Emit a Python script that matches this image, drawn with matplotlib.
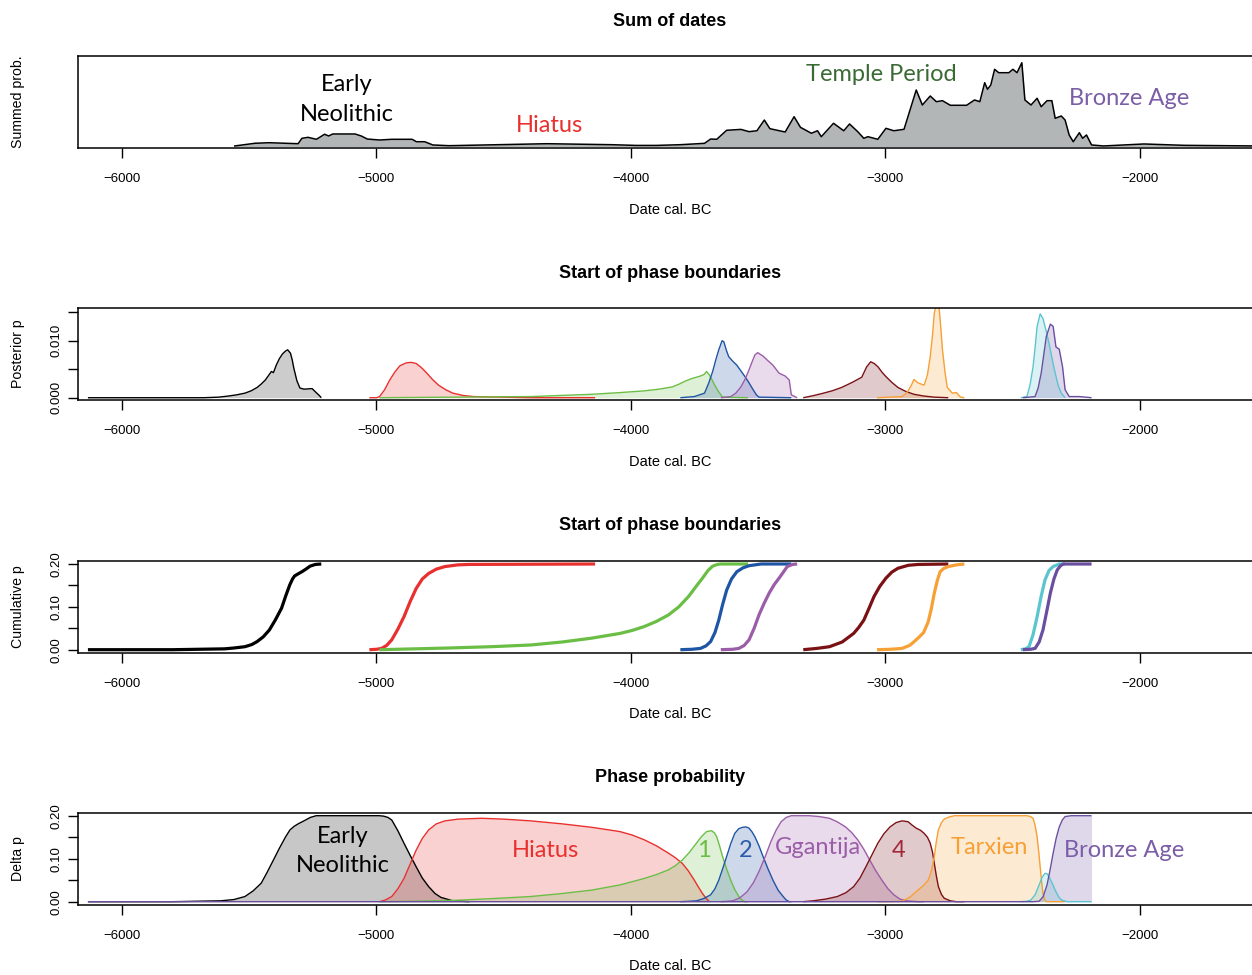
import numpy as np
import matplotlib.pyplot as plt

plt.rcParams['font.family'] = ['Liberation Sans', 'DejaVu Sans']

# ---- data: (date cal. BC, value) ----

# panel 1: summed probability of dates (arbitrary units)
sum_dates = [(-5557, 0.006), (-5477, 0.036), (-5421, 0.042), (-5308, 0.031), (-5293, 0.091),
             (-5269, 0.102), (-5236, 0.080), (-5204, 0.136), (-5188, 0.117), (-5172, 0.139),
             (-5084, 0.139), (-5060, 0.117), (-5036, 0.083), (-4988, 0.072), (-4940, 0.080),
             (-4860, 0.080), (-4843, 0.053), (-4811, 0.053), (-4795, 0.036), (-4779, 0.017),
             (-4715, 0.009), (-4330, 0.031), (-4075, 0.020), (-3980, 0.012), (-3900, 0.012),
             (-3806, 0.020), (-3711, 0.035), (-3687, 0.083), (-3663, 0.080), (-3624, 0.180),
             (-3568, 0.190), (-3536, 0.165), (-3505, 0.175), (-3476, 0.294), (-3454, 0.198),
             (-3394, 0.161), (-3359, 0.331), (-3334, 0.213), (-3291, 0.147), (-3267, 0.175),
             (-3252, 0.109), (-3204, 0.258), (-3164, 0.175), (-3141, 0.250), (-3109, 0.165),
             (-3085, 0.091), (-3069, 0.109), (-3030, 0.080), (-2998, 0.202), (-2967, 0.175),
             (-2927, 0.191), (-2879, 0.628), (-2855, 0.461), (-2824, 0.561), (-2800, 0.498),
             (-2776, 0.509), (-2745, 0.458), (-2681, 0.458), (-2650, 0.517), (-2629, 0.498),
             (-2610, 0.709), (-2599, 0.636), (-2586, 0.683), (-2571, 0.858), (-2555, 0.820),
             (-2515, 0.820), (-2499, 0.858), (-2483, 0.820), (-2464, 0.931), (-2452, 0.517),
             (-2428, 0.461), (-2404, 0.536), (-2388, 0.442), (-2365, 0.509), (-2346, 0.509),
             (-2333, 0.313), (-2309, 0.339), (-2294, 0.294), (-2278, 0.128), (-2262, 0.053),
             (-2238, 0.153), (-2225, 0.091), (-2210, 0.128), (-2190, 0.017), (-2143, 0.006),
             (-1984, 0.028), (-1827, 0.013), (-1536, 0.006)]

# panel 2: posterior of start boundaries
post_early = [(-6134, 0), (-5678, 0.0000), (-5620, 0.0001), (-5581, 0.0003), (-5550, 0.0005),
              (-5517, 0.0008), (-5493, 0.0012), (-5469, 0.0018), (-5453, 0.0024), (-5437, 0.0031),
              (-5413, 0.0046), (-5405, 0.0044), (-5393, 0.0058), (-5381, 0.0069), (-5369, 0.0077),
              (-5357, 0.0082), (-5349, 0.0084), (-5338, 0.0078), (-5331, 0.0066), (-5325, 0.0052),
              (-5313, 0.0030), (-5301, 0.0017), (-5285, 0.0015), (-5253, 0.0016), (-5237, 0.0009),
              (-5225, 0.0004), (-5217, 0)]
post_hiatus = [(-5028, 0), (-5000, 0.0000), (-4988, 0.0002), (-4968, 0.0014), (-4948, 0.0031),
               (-4928, 0.0045), (-4908, 0.0056), (-4884, 0.0061), (-4864, 0.0062), (-4844, 0.0060),
               (-4824, 0.0053), (-4804, 0.0044), (-4780, 0.0032), (-4756, 0.0022), (-4728, 0.0014),
               (-4700, 0.0008), (-4660, 0.0004), (-4619, 0.0002), (-4500, 0.0001), (-4394, 0.0000),
               (-4141, 0)]
post_p1 = [(-4988, 0), (-4700, 0.0001), (-4394, 0.0002), (-4154, 0.0006), (-4043, 0.0009),
           (-3948, 0.0012), (-3890, 0.0015), (-3837, 0.0019), (-3810, 0.0024), (-3782, 0.0030),
           (-3758, 0.0034), (-3727, 0.0038), (-3712, 0.0041), (-3703, 0.0046), (-3692, 0.0040),
           (-3681, 0.0031), (-3671, 0.0022), (-3655, 0.0010), (-3640, 0.0001), (-3540, 0)]
post_p2 = [(-3806, 0), (-3751, 0.0002), (-3711, 0.0008), (-3695, 0.0025), (-3679, 0.0046),
           (-3667, 0.0066), (-3655, 0.0084), (-3642, 0.0100), (-3635, 0.0098), (-3625, 0.0083),
           (-3616, 0.0072), (-3600, 0.0064), (-3584, 0.0057), (-3568, 0.0047), (-3552, 0.0037),
           (-3536, 0.0026), (-3520, 0.0014), (-3507, 0.0005), (-3497, 0.0001), (-3370, 0)]
post_ggantija = [(-3647, 0), (-3608, 0.0002), (-3588, 0.0008), (-3568, 0.0019), (-3552, 0.0032),
                 (-3536, 0.0049), (-3524, 0.0063), (-3513, 0.0075), (-3502, 0.0079), (-3481, 0.0073),
                 (-3462, 0.0065), (-3442, 0.0057), (-3430, 0.0050), (-3418, 0.0043), (-3394, 0.0038),
                 (-3378, 0.0031), (-3373, 0.0015), (-3370, 0.0005), (-3347, 0)]
post_p4 = [(-3323, 0), (-3290, 0.0003), (-3252, 0.0007), (-3210, 0.0012), (-3172, 0.0018),
           (-3130, 0.0027), (-3093, 0.0036), (-3074, 0.0054), (-3058, 0.0063), (-3044, 0.0060),
           (-3029, 0.0054), (-3014, 0.0045), (-2998, 0.0037), (-2975, 0.0027), (-2951, 0.0018),
           (-2920, 0.0011), (-2888, 0.0006), (-2850, 0.0003), (-2808, 0.0001), (-2753, 0)]
post_tarxien = [(-3033, 0), (-2935, 0.0002), (-2920, 0.0007), (-2911, 0.0012), (-2898, 0.0022),
                (-2888, 0.0032), (-2872, 0.0026), (-2848, 0.0022), (-2835, 0.0040), (-2824, 0.0072),
                (-2815, 0.0110), (-2808, 0.0148), (-2800, 0.0166), (-2789, 0.0157), (-2782, 0.0120),
                (-2776, 0.0084), (-2766, 0.0045), (-2757, 0.0018), (-2737, 0.0008), (-2721, 0.0009),
                (-2705, 0.0001), (-2690, 0)]
post_cyan = [(-2468, 0), (-2444, 0.0002), (-2432, 0.0022), (-2420, 0.0054), (-2411, 0.0092),
             (-2404, 0.0125), (-2392, 0.0147), (-2381, 0.0139), (-2369, 0.0118), (-2357, 0.0095),
             (-2345, 0.0068), (-2333, 0.0043), (-2320, 0.0020), (-2309, 0.0008), (-2294, 0)]
post_bronze = [(-2460, 0), (-2412, 0.0002), (-2400, 0.0017), (-2388, 0.0043), (-2378, 0.0075),
               (-2368, 0.0107), (-2352, 0.0129), (-2341, 0.0125), (-2330, 0.0089), (-2317, 0.0085),
               (-2304, 0.0054), (-2294, 0.0014), (-2278, 0.0002), (-2238, 0.0002), (-2190, 0)]

# panel 3: cumulative of start boundaries
cum_early = [(-6134, 0), (-5800, 0.000), (-5597, 0.002), (-5560, 0.004), (-5517, 0.007),
             (-5490, 0.012), (-5469, 0.019), (-5445, 0.030), (-5421, 0.046), (-5397, 0.070),
             (-5373, 0.097), (-5357, 0.125), (-5341, 0.151), (-5330, 0.165), (-5322, 0.172),
             (-5308, 0.177), (-5293, 0.182), (-5275, 0.189), (-5261, 0.195), (-5240, 0.199),
             (-5217, 0.200)]
cum_hiatus = [(-5028, 0), (-5000, 0.001), (-4980, 0.003), (-4960, 0.010), (-4940, 0.023),
              (-4916, 0.048), (-4892, 0.077), (-4868, 0.112), (-4844, 0.143), (-4820, 0.165),
              (-4795, 0.178), (-4765, 0.188), (-4731, 0.194), (-4680, 0.198), (-4635, 0.199),
              (-4141, 0.200)]
cum_p1 = [(-4988, 0), (-4850, 0.002), (-4715, 0.004), (-4550, 0.007), (-4394, 0.011),
          (-4270, 0.018), (-4154, 0.027), (-4043, 0.038), (-3995, 0.045), (-3948, 0.054),
          (-3900, 0.066), (-3853, 0.081), (-3812, 0.100), (-3774, 0.124), (-3745, 0.147),
          (-3719, 0.167), (-3697, 0.185), (-3679, 0.195), (-3660, 0.199), (-3647, 0.200),
          (-3540, 0.200)]
cum_p2 = [(-3806, 0), (-3760, 0.001), (-3727, 0.003), (-3705, 0.009), (-3687, 0.019),
          (-3670, 0.040), (-3655, 0.069), (-3640, 0.105), (-3624, 0.139), (-3605, 0.165),
          (-3584, 0.182), (-3560, 0.191), (-3536, 0.196), (-3489, 0.200), (-3370, 0.200)]
cum_ggantija = [(-3647, 0), (-3600, 0.001), (-3576, 0.003), (-3555, 0.010), (-3536, 0.023),
                (-3516, 0.050), (-3497, 0.081), (-3477, 0.108), (-3457, 0.132), (-3437, 0.152),
                (-3418, 0.167), (-3400, 0.182), (-3386, 0.194), (-3365, 0.199), (-3347, 0.200)]
cum_p4 = [(-3323, 0), (-3270, 0.003), (-3220, 0.007), (-3170, 0.018), (-3125, 0.038),
          (-3105, 0.052), (-3085, 0.069), (-3065, 0.096), (-3045, 0.124), (-3022, 0.148),
          (-2998, 0.167), (-2975, 0.181), (-2951, 0.190), (-2910, 0.197), (-2871, 0.199),
          (-2753, 0.200)]
cum_tarxien = [(-3033, 0), (-2980, 0.001), (-2935, 0.003), (-2905, 0.010), (-2885, 0.020),
               (-2872, 0.027), (-2850, 0.040), (-2832, 0.065), (-2820, 0.095), (-2808, 0.132),
               (-2796, 0.162), (-2785, 0.182), (-2770, 0.190), (-2753, 0.194), (-2721, 0.198),
               (-2690, 0.200)]
cum_cyan = [(-2468, 0), (-2450, 0.002), (-2436, 0.007), (-2420, 0.035), (-2404, 0.077),
            (-2388, 0.125), (-2373, 0.163), (-2357, 0.185), (-2341, 0.194), (-2317, 0.200),
            (-2294, 0.200)]
cum_bronze = [(-2460, 0), (-2430, 0.001), (-2412, 0.003), (-2396, 0.018), (-2381, 0.046),
              (-2366, 0.090), (-2352, 0.132), (-2338, 0.165), (-2325, 0.186), (-2312, 0.196),
              (-2301, 0.200), (-2190, 0.200)]

# panel 4: phase probability
ph_early = [(-6134, 0), (-5800, 0.000), (-5613, 0.002), (-5560, 0.005), (-5517, 0.012),
            (-5485, 0.025), (-5453, 0.043), (-5430, 0.068), (-5405, 0.097), (-5381, 0.125),
            (-5357, 0.151), (-5340, 0.167), (-5322, 0.176), (-5305, 0.182), (-5285, 0.188),
            (-5260, 0.196), (-5237, 0.200), (-4990, 0.200), (-4972, 0.199), (-4955, 0.196),
            (-4940, 0.190), (-4916, 0.165), (-4892, 0.136), (-4868, 0.108), (-4844, 0.081),
            (-4820, 0.055), (-4795, 0.035), (-4770, 0.019), (-4747, 0.010), (-4700, 0.002),
            (-4635, 0)]
ph_hiatus = [(-4988, 0), (-4965, 0.004), (-4940, 0.012), (-4916, 0.030), (-4892, 0.054),
             (-4868, 0.087), (-4844, 0.120), (-4820, 0.147), (-4795, 0.167), (-4765, 0.181),
             (-4731, 0.188), (-4680, 0.192), (-4587, 0.194), (-4500, 0.192), (-4394, 0.188),
             (-4270, 0.181), (-4154, 0.173), (-4043, 0.163), (-3995, 0.155), (-3948, 0.144),
             (-3900, 0.130), (-3853, 0.113), (-3825, 0.102), (-3798, 0.089), (-3775, 0.072),
             (-3751, 0.050), (-3735, 0.034), (-3719, 0.019), (-3705, 0.008), (-3692, 0)]
ph_p1 = [(-4988, 0), (-4850, 0.001), (-4700, 0.003), (-4550, 0.007), (-4394, 0.012),
         (-4270, 0.019), (-4154, 0.027), (-4043, 0.039), (-3948, 0.054), (-3900, 0.063),
         (-3853, 0.074), (-3825, 0.084), (-3798, 0.097), (-3770, 0.115), (-3743, 0.136),
         (-3722, 0.152), (-3703, 0.163), (-3683, 0.165), (-3672, 0.160), (-3663, 0.151),
         (-3652, 0.130), (-3640, 0.105), (-3624, 0.076), (-3608, 0.050), (-3592, 0.028),
         (-3576, 0.012), (-3564, 0.004), (-3552, 0), (-3540, 0)]
ph_p2 = [(-3806, 0), (-3770, 0.001), (-3743, 0.002), (-3715, 0.007), (-3687, 0.016),
         (-3670, 0.030), (-3655, 0.050), (-3640, 0.076), (-3624, 0.105), (-3608, 0.135),
         (-3592, 0.159), (-3576, 0.170), (-3561, 0.173), (-3548, 0.174), (-3536, 0.171),
         (-3525, 0.163), (-3513, 0.151), (-3497, 0.130), (-3481, 0.105), (-3462, 0.077),
         (-3442, 0.050), (-3422, 0.027), (-3402, 0.012), (-3390, 0.004), (-3378, 0), (-3370, 0)]
ph_ggantija = [(-3647, 0), (-3620, 0.001), (-3600, 0.002), (-3572, 0.009), (-3544, 0.023),
               (-3520, 0.043), (-3497, 0.070), (-3473, 0.104), (-3450, 0.140), (-3430, 0.166),
               (-3410, 0.186), (-3390, 0.196), (-3370, 0.200), (-3300, 0.200), (-3260, 0.198),
               (-3220, 0.194), (-3190, 0.186), (-3157, 0.174), (-3133, 0.161), (-3109, 0.144),
               (-3085, 0.122), (-3062, 0.097), (-3038, 0.072), (-3014, 0.050), (-2990, 0.030),
               (-2967, 0.016), (-2943, 0.006), (-2919, 0.002), (-2872, 0), (-2850, 0)]
ph_p4 = [(-3323, 0), (-3284, 0.002), (-3235, 0.006), (-3189, 0.012), (-3155, 0.021),
         (-3125, 0.035), (-3100, 0.055), (-3077, 0.081), (-3053, 0.109), (-3030, 0.136),
         (-3006, 0.158), (-2982, 0.174), (-2958, 0.184), (-2935, 0.188), (-2911, 0.186),
         (-2895, 0.178), (-2879, 0.171), (-2862, 0.166), (-2848, 0.159), (-2835, 0.150),
         (-2824, 0.136), (-2815, 0.115), (-2808, 0.089), (-2800, 0.060), (-2792, 0.035),
         (-2780, 0.017), (-2769, 0.008), (-2745, 0.002), (-2721, 0), (-2690, 0)]
ph_tarxien = [(-3033, 0), (-2980, 0.000), (-2935, 0.001), (-2905, 0.010), (-2872, 0.027),
              (-2850, 0.038), (-2832, 0.050), (-2820, 0.070), (-2808, 0.105), (-2800, 0.140),
              (-2792, 0.167), (-2780, 0.184), (-2769, 0.192), (-2750, 0.197), (-2729, 0.200),
              (-2444, 0.200), (-2430, 0.198), (-2420, 0.194), (-2412, 0.178), (-2404, 0.151),
              (-2398, 0.118), (-2392, 0.081), (-2386, 0.045), (-2381, 0.019), (-2375, 0.006),
              (-2368, 0), (-2294, 0)]
ph_cyan = [(-2468, 0), (-2445, 0.001), (-2428, 0.004), (-2412, 0.016), (-2396, 0.039),
           (-2385, 0.056), (-2373, 0.066), (-2365, 0.065), (-2357, 0.058), (-2345, 0.043),
           (-2333, 0.027), (-2320, 0.012), (-2309, 0.004), (-2286, 0), (-2190, 0)]
ph_bronze = [(-6134, 0), (-2420, 0), (-2396, 0.001), (-2380, 0.012), (-2365, 0.039),
             (-2353, 0.074), (-2341, 0.113), (-2329, 0.148), (-2317, 0.174), (-2305, 0.190),
             (-2294, 0.198), (-2270, 0.200), (-2190, 0.200)]

# colours
c_black = '#000000'
c_red = '#E8302E'
c_green = '#6BBE45'
c_blue = '#1F55A5'
c_purple = '#9B5DA8'
c_dred = '#7A1215'
c_orange = '#F7A035'
c_cyan = '#5BC5CF'
c_bronze = '#6A4FA0'

W, H = 1252, 975
fig = plt.figure(figsize=(W / 100, H / 100), dpi=100)

XLIM = (-6173, -1536)
ANN = ['Lato', 'DejaVu Sans']
ANN_SIZE = 17


def px_axes(top, bottom):
    return fig.add_axes([78 / W, 1 - bottom / H, 1180 / W, (bottom - top) / H])


def frame(ax, ylim, title, title_y, xlab_y, ylabel, yticks=None, ylabels=None):
    ax.set_xlim(XLIM)
    ax.set_ylim(ylim)
    ax.set_xticks([-6000, -5000, -4000, -3000, -2000])
    ax.set_xticklabels(['\u22126000', '\u22125000', '\u22124000', '\u22123000', '\u22122000'])
    ax.tick_params(axis='x', length=7, width=1, pad=11, labelsize=9.5)
    if yticks is None:
        ax.set_yticks([])
    else:
        ax.set_yticks(yticks)
        ax.set_yticklabels(ylabels)
        ax.tick_params(axis='y', length=7, width=1, pad=4, labelsize=9.5, labelrotation=90)
        for lbl in ax.get_yticklabels():
            lbl.set_va('center')
    for s in ax.spines.values():
        s.set_linewidth(1.1)
    fig.text(670 / W, 1 - title_y / H, title, ha='center', va='center',
             fontsize=13, fontweight='bold')
    fig.text(670 / W, 1 - xlab_y / H, 'Date cal. BC', ha='center', va='center', fontsize=10.5)
    yc = (ax.get_position().y0 + ax.get_position().y1) / 2
    fig.text(18 / W, yc, ylabel, ha='center', va='center', rotation=90, fontsize=10.2)


def curve(ax, pts, col, lw=1.0, fill=True, alpha=0.22):
    x = [p[0] for p in pts]
    y = [p[1] for p in pts]
    if fill:
        ax.fill_between(x, 0, y, color=col, alpha=alpha, lw=0)
    ax.plot(x, y, color=col, lw=lw, solid_joinstyle='round', solid_capstyle='butt')


# ---- panel 1 ----
ax1 = px_axes(56, 148)
x = [p[0] for p in sum_dates]
y = [p[1] for p in sum_dates]
ax1.fill_between(x, 0, y, color='#b3b6b6', lw=0)
ax1.plot(x, y, color='black', lw=1.1)
frame(ax1, (-0.0167, 1.0056), 'Sum of dates', 21, 210, 'Summed prob.')
ax1.text(-5116, 0.52, 'Early\nNeolithic', ha='center', va='center', fontsize=ANN_SIZE,
         family=ANN, color='black', linespacing=1.55)
ax1.text(-4322, 0.23, 'Hiatus', ha='center', va='center', fontsize=ANN_SIZE, family=ANN,
         color=c_red)
ax1.text(-3018, 0.80, 'Temple Period', ha='center', va='center', fontsize=ANN_SIZE, family=ANN,
         color='#3A6B35')
ax1.text(-2043, 0.53, 'Bronze Age', ha='center', va='center', fontsize=ANN_SIZE, family=ANN,
         color='#7B5EA7')

# ---- panel 2 ----
ax2 = px_axes(308, 400)
frame(ax2, (-0.0004, 0.01573), 'Start of phase boundaries', 273, 462, 'Posterior p',
      [0, 0.005, 0.010, 0.015], ['0.000', '', '0.010', ''])
curve(ax2, post_early, c_black, alpha=0.2)
curve(ax2, post_hiatus, c_red)
curve(ax2, post_p1, c_green)
curve(ax2, post_p2, c_blue)
curve(ax2, post_ggantija, c_purple)
curve(ax2, post_p4, c_dred)
curve(ax2, post_tarxien, c_orange)
curve(ax2, post_cyan, c_cyan)
curve(ax2, post_bronze, c_bronze)

# ---- panel 3 ----
ax3 = px_axes(561, 653)
frame(ax3, (-0.0077, 0.207), 'Start of phase boundaries', 525, 714, 'Cumulative p',
      [0, 0.05, 0.10, 0.15, 0.20], ['0.00', '', '0.10', '', '0.20'])
for pts, col in [(cum_early, c_black), (cum_hiatus, c_red), (cum_p1, c_green),
                 (cum_p2, c_blue), (cum_ggantija, c_purple), (cum_p4, c_dred),
                 (cum_tarxien, c_orange), (cum_cyan, c_cyan), (cum_bronze, c_bronze)]:
    curve(ax3, pts, col, lw=2.3, fill=False)

# ---- panel 4 ----
ax4 = px_axes(813, 905)
frame(ax4, (-0.0077, 0.2063), 'Phase probability', 777, 966, 'Delta p',
      [0, 0.05, 0.10, 0.15, 0.20], ['0.00', '', '0.10', '', '0.20'])
curve(ax4, ph_early, c_black, alpha=0.22)
curve(ax4, ph_hiatus, c_red)
curve(ax4, ph_p1, c_green)
curve(ax4, ph_p2, c_blue)
curve(ax4, ph_ggantija, c_purple)
curve(ax4, ph_p4, c_dred)
curve(ax4, ph_tarxien, c_orange)
curve(ax4, ph_cyan, c_cyan)
curve(ax4, ph_bronze, c_bronze)

labels4 = [(-5132, 0.118, 'Early\nNeolithic', 'black'),
           (-4334, 0.12, 'Hiatus', c_red),
           (-3713, 0.12, '1', c_green),
           (-3548, 0.12, '2', '#2B5BA8'),
           (-3265, 0.125, 'Ggantija', c_purple),
           (-2947, 0.12, '4', '#A0283A'),
           (-2593, 0.125, 'Tarxien', c_orange),
           (-2063, 0.12, 'Bronze Age', '#7B5EA7')]
for lx, ly, txt, col in labels4:
    ax4.text(lx, ly, txt, ha='center', va='center', fontsize=ANN_SIZE, family=ANN, color=col,
             linespacing=1.45)

fig.savefig('out.png', dpi=100)
